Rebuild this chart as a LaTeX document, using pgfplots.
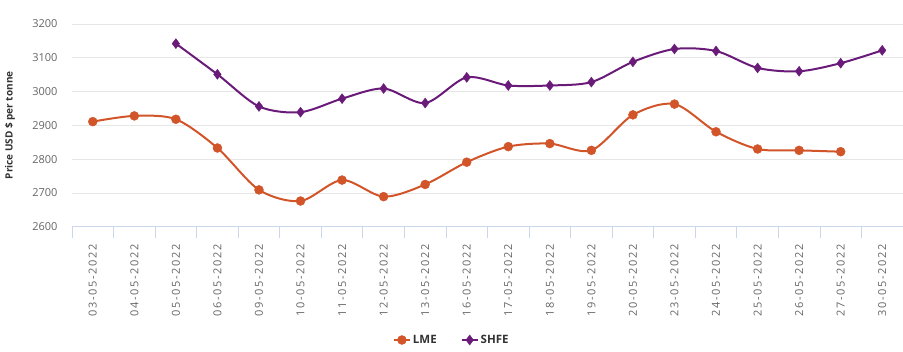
\documentclass[border=0pt]{standalone}
\usepackage{pgfplots}
\pgfplotsset{compat=1.18}
\usepackage{fontspec}
\setmainfont{Open Sans}
\newfontfamily\xlab{Open Sans}[LetterSpace=15]
\definecolor{lme}{HTML}{D2552A}
\definecolor{shfe}{HTML}{6A1B7A}
\definecolor{gridc}{HTML}{E6E6E6}
\definecolor{axc}{HTML}{CCD6EB}
\definecolor{tickc}{HTML}{666666}
\definecolor{legc}{HTML}{333333}
\begin{document}
\begin{tikzpicture}
\path[use as bounding box] (0,0) rectangle (903pt,352pt);
\begin{axis}[
  at={(72pt,125.3pt)}, anchor=south west, scale only axis,
  width=831pt, height=202.7pt,
  xmin=-0.5, xmax=19.5, ymin=2600, ymax=3200,
  ytick={2600,2700,...,3200},
  ymajorgrids, grid style={gridc, line width=0.8pt},
  axis lines*=left,
  y axis line style={draw=none},
  x axis line style={axc, line width=0.8pt},
  xtick={0,...,19},
  xticklabels={03-05-2022,04-05-2022,05-05-2022,06-05-2022,09-05-2022,10-05-2022,11-05-2022,12-05-2022,13-05-2022,16-05-2022,17-05-2022,18-05-2022,19-05-2022,20-05-2022,23-05-2022,24-05-2022,25-05-2022,26-05-2022,27-05-2022,30-05-2022},
  major tick length=0pt,
  minor xtick={-0.5,0.5,...,19.5},
  minor x tick style={axc, line width=0.8pt},
  minor tick length=11pt,
  tick align=outside,
  xticklabel shift=14pt,
  x tick label style={rotate=90, anchor=east, font=\xlab\fontsize{11}{12}\selectfont, text=tickc},
  y tick label style={font=\fontsize{11}{13}\selectfont, text=tickc, xshift=-11pt},
  /pgf/number format/assume math mode=true,
  /pgf/number format/1000 sep={},
  ylabel={Price USD \$ per tonne},
  ylabel style={at={(axis description cs:-0.0745,0.5)}, anchor=center, font=\bfseries\fontsize{10}{12}\selectfont, text=legc},
  legend style={at={(rel axis cs:0.457,-0.559)}, anchor=center, draw=none, legend columns=2, font=\bfseries\fontsize{11.5}{13}\selectfont, text=legc, /tikz/every even column/.append style={column sep=22pt}},
  legend image code/.code={\draw[mark repeat=2,mark phase=2,#1] plot coordinates {(0pt,0pt)(8pt,0pt)(16pt,0pt)};},
]
\addplot[lme, line width=2pt, smooth, tension=0.5, mark=*, mark size=4.5pt, mark options={solid, line width=0.4pt}] coordinates {
(0,2911)(1,2928)(2,2918)(3,2833)(4,2709)(5,2676)(6,2738)(7,2689)(8,2725)(9,2791)(10,2837)(11,2846)(12,2826)(13,2931)(14,2963)(15,2881)(16,2830)(17,2826)(18,2822)};
\addlegendentry{LME}
\addplot[shfe, line width=2pt, smooth, tension=0.5, mark=diamond*, mark size=5pt, mark options={solid, line width=0.4pt}] coordinates {
(2,3142)(3,3051)(4,2956)(5,2939)(6,2979)(7,3009)(8,2966)(9,3042)(10,3018)(11,3018)(12,3028)(13,3088)(14,3126)(15,3120)(16,3070)(17,3060)(18,3084)(19,3122)};
\addlegendentry{SHFE}
\end{axis}
\end{tikzpicture}
\end{document}
